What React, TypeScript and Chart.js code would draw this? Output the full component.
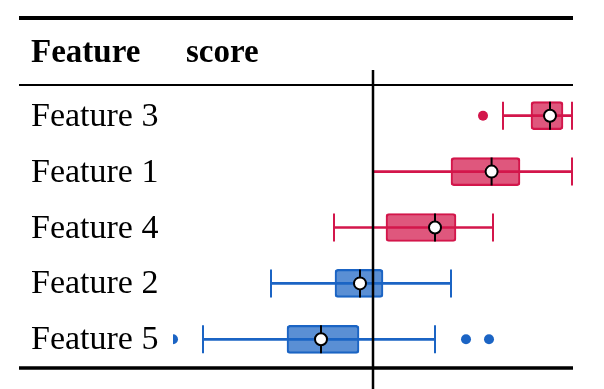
import React, { useEffect, useRef } from "react";
import { Chart, registerables } from "chart.js";

Chart.register(...registerables);

const categories = ["Feature 3", "Feature 1", "Feature 4", "Feature 2", "Feature 5"];
const whiskerLow = [0.65, 0.0, -0.195, -0.51, -0.85];
const q1 = [0.79, 0.39, 0.065, -0.19, -0.43];
const median = [0.885, 0.593, 0.31, -0.065, -0.26];
const q3 = [0.95, 0.735, 0.415, 0.05, -0.07];
const whiskerHigh = [0.995, 0.995, 0.6, 0.39, 0.31];
const outlierCategory = ["Feature 3", "Feature 5", "Feature 5", "Feature 5"];
const outlierValue = [0.55, -1.0, 0.465, 0.58];
const headerLabels = ["Feature", "score"];

const RED_LINE = "#d3164b";
const RED_FILL = "rgba(211,22,75,0.72)";
const BLUE_LINE = "#1b64c4";
const BLUE_FILL = "rgba(27,100,196,0.72)";
const SERIF = "'Liberation Serif', 'Times New Roman', serif";

const lineColor = (i: number) => (median[i] > 0 ? RED_LINE : BLUE_LINE);
const fillColor = (i: number) => (median[i] > 0 ? RED_FILL : BLUE_FILL);

const decorPlugin = {
  id: "tableDecor",
  afterDatasetsDraw(chart: any) {
    const ctx = chart.ctx;
    const x0 = chart.scales.x.getPixelForValue(0);
    ctx.save();
    ctx.strokeStyle = "#000";
    ctx.lineWidth = 2.5;
    ctx.beginPath();
    ctx.moveTo(x0, 70);
    ctx.lineTo(x0, chart.height);
    ctx.stroke();
    ctx.restore();
  },
  afterDraw(chart: any) {
    const ctx = chart.ctx;
    const area = chart.chartArea;
    const yScale = chart.scales.y;
    const left = 19;
    const right = area.right;
    ctx.save();
    ctx.strokeStyle = "#000";
    ctx.lineWidth = 4;
    ctx.beginPath();
    ctx.moveTo(left, 18);
    ctx.lineTo(right, 18);
    ctx.stroke();
    ctx.lineWidth = 2;
    ctx.beginPath();
    ctx.moveTo(left, 85);
    ctx.lineTo(right, 85);
    ctx.stroke();
    ctx.lineWidth = 3.5;
    ctx.beginPath();
    ctx.moveTo(left, 368);
    ctx.lineTo(right, 368);
    ctx.stroke();
    ctx.fillStyle = "#000";
    ctx.textBaseline = "alphabetic";
    ctx.textAlign = "left";
    ctx.font = `bold 33px ${SERIF}`;
    ctx.fillText(headerLabels[0], 31, 62);
    ctx.fillText(headerLabels[1], area.left + 13, 62);
    ctx.font = `34px ${SERIF}`;
    categories.forEach((c, i) => {
      ctx.fillText(c, 31, yScale.getPixelForValue(i) + 10);
    });
    ctx.restore();
  },
};

export default function App() {
  const ref = useRef<HTMLCanvasElement>(null);
  useEffect(() => {
    if (!ref.current) return;
    const capData = [
      ...categories.map((c, i) => ({ x: whiskerLow[i], y: c })),
      ...categories.map((c, i) => ({ x: whiskerHigh[i], y: c })),
    ];
    const capColors = [...categories.map((_, i) => lineColor(i)), ...categories.map((_, i) => lineColor(i))];
    const outColors = outlierCategory.map((c) => lineColor(categories.indexOf(c)));
    const chart = new Chart(ref.current, {
      type: "bar",
      data: {
        labels: categories,
        datasets: [
          {
            type: "bar",
            data: categories.map((_, i) => [whiskerLow[i], whiskerHigh[i]]),
            backgroundColor: categories.map((_, i) => lineColor(i)),
            borderWidth: 0,
            barThickness: 2,
            grouped: false,
            order: 10,
          } as any,
          {
            type: "bar",
            data: categories.map((_, i) => [q1[i], q3[i]]),
            backgroundColor: categories.map((_, i) => fillColor(i)),
            borderColor: categories.map((_, i) => lineColor(i)),
            borderWidth: 1.5,
            borderRadius: 3,
            borderSkipped: false,
            barThickness: 28,
            grouped: false,
            order: 8,
          } as any,
          {
            type: "scatter",
            data: capData,
            pointStyle: "line",
            rotation: 90,
            pointRadius: 14,
            borderWidth: 2,
            borderColor: capColors,
            order: 6,
          } as any,
          {
            type: "scatter",
            data: categories.map((c, i) => ({ x: median[i], y: c })),
            pointStyle: "line",
            rotation: 90,
            pointRadius: 14,
            borderWidth: 2,
            borderColor: "#000",
            order: 4,
          } as any,
          {
            type: "scatter",
            data: categories.map((c, i) => ({ x: median[i], y: c })),
            pointStyle: "circle",
            pointRadius: 6,
            borderWidth: 2,
            borderColor: "#000",
            backgroundColor: "#fff",
            order: 2,
          } as any,
          {
            type: "scatter",
            data: outlierCategory.map((c, i) => ({ x: outlierValue[i], y: c })),
            pointStyle: "circle",
            pointRadius: 5,
            borderWidth: 0,
            backgroundColor: outColors,
            clip: 0,
            order: 1,
          } as any,
        ],
      },
      options: {
        indexAxis: "y",
        animation: false,
        responsive: false,
        layout: { padding: { left: 31, right: 31, top: 87.75, bottom: 21.75 } },
        plugins: { legend: { display: false }, tooltip: { enabled: false } },
        scales: {
          x: { type: "linear", min: -1, max: 1, display: false },
          y: {
            type: "category",
            offset: true,
            grid: { display: false },
            border: { display: false },
            ticks: { display: false },
            afterFit: (s: any) => {
              s.width = 142;
            },
          },
        },
      } as any,
      plugins: [decorPlugin],
    });
    return () => chart.destroy();
  }, []);
  return (
    <div style={{ position: "fixed", left: 0, top: 0, width: 604, height: 389, background: "#fff" }}>
      <canvas ref={ref} width={604} height={389} />
    </div>
  );
}
